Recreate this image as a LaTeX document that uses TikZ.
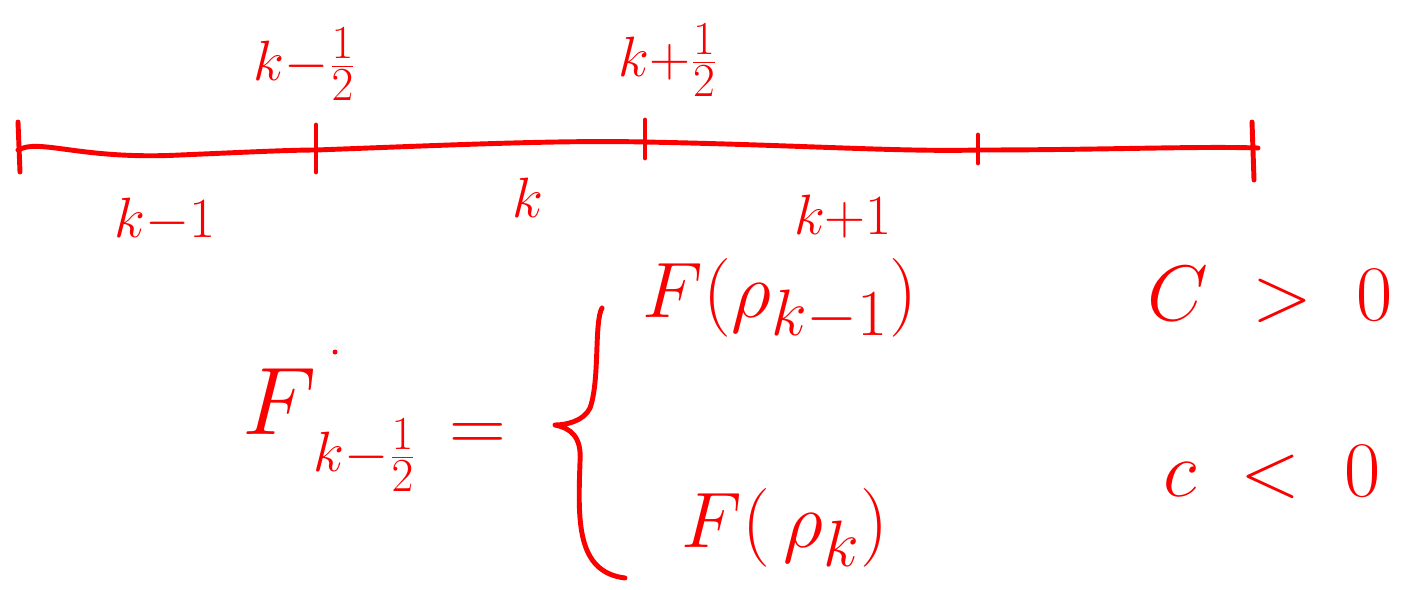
\documentclass[tikz,border=0pt]{standalone}
\usepackage{graphicx}
\definecolor{ink}{RGB}{250,0,0}
\newcommand{\lb}[1]{\scalebox{1.3}{\Huge #1}}
\newcommand{\bg}[1]{\scalebox{1.8}{\Huge #1}}
\begin{document}
\begin{tikzpicture}[x=0.02cm,y=-0.02cm,
  pen/.style={draw=ink,line width=2.8pt,line cap=round,line join=round},
  lbl/.style={text=ink,inner sep=0pt}]
\useasboundingbox (0,0) rectangle (1408,589);
% axis
\coordinate (a0) at (18,150);
\coordinate (a1) at (316,150);
\coordinate (a2) at (645,142);
\coordinate (a3) at (978,150);
\coordinate (a4) at (1258,148);
\draw[pen] (a0) .. controls (40,138) and (80,160) .. (180,155)
  .. controls (250,152) and (290,150) .. (a1)
  .. controls (450,145) and (560,140) .. (a2)
  .. controls (800,145) and (900,152) .. (a3)
  .. controls (1100,150) and (1200,146) .. (a4);
\draw[pen] (18,122) -- (20,172);
\draw[pen] (316,125) -- (316,172);
\draw[pen] (645,120) -- (645,158);
\draw[pen] (978,135) -- (978,163);
\draw[pen] (1252,122) -- (1254,180);
% labels
\node[lbl] (lm) at (305,64) {\lb{$k{-}\frac{1}{2}$}};
\node[lbl] (lp) at (668,60) {\lb{$k{+}\frac{1}{2}$}};
\node[lbl] (c1) at (165,220) {\lb{$k{-}1$}};
\node[lbl] (c2) at (528,198) {\lb{$k$}};
\node[lbl] (c3) at (843,217) {\lb{$k{+}1$}};
% flux definition
\node[lbl] (F) at (280,402) {\scalebox{2.2}{\Huge $F$}};
\node[lbl] (Fs) at (365,455) {\lb{$k{-}\frac{1}{2}$}};
\fill[ink] (335,352) circle (2.5);
\node[lbl] (eq) at (478,437) {\bg{$=$}};
\draw[pen] (602,308) .. controls (594,322) and (600,380) .. (590,408)
  .. controls (584,421) and (566,425) .. (555,425)
  .. controls (570,428) and (582,436) .. (580,462)
  .. controls (578,520) and (576,572) .. (625,578);
\node[lbl] (t1) at (780,300) {\bg{$F(\rho_{k-1})$}};
\node[lbl] (t2) at (785,528) {\bg{$F(\,\rho_{k})$}};
\node[lbl] (r1) at (1270,295) {\bg{$C\;>\;0$}};
\node[lbl] (r2) at (1272,472) {\bg{$c\;<\;0$}};
\end{tikzpicture}
\end{document}
